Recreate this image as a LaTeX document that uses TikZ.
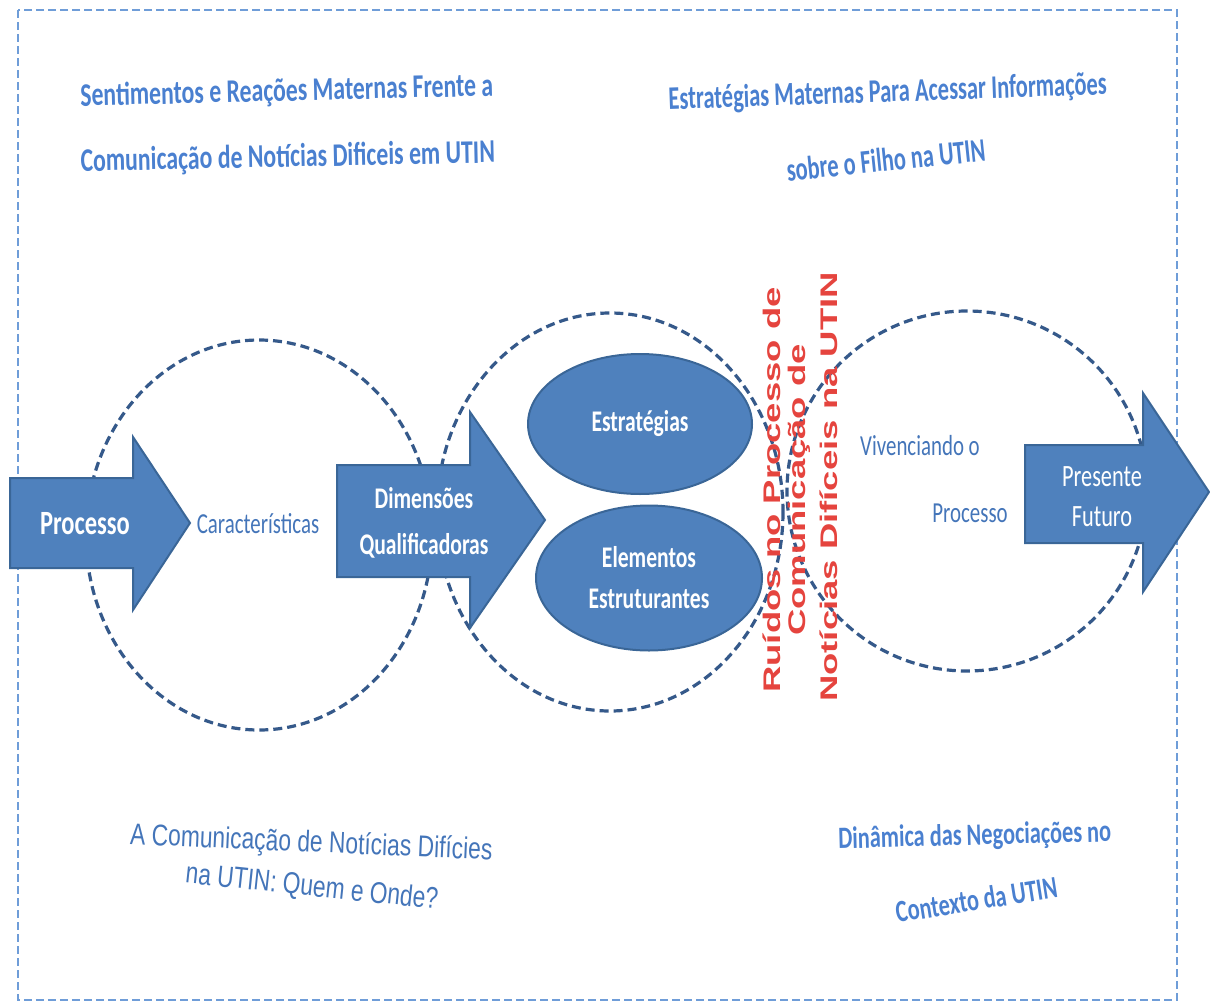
\documentclass[tikz,border=0pt]{standalone}
\usepackage{fontspec}
\usetikzlibrary{shapes.geometric}
\newfontfamily\calnar[FakeStretch=0.72]{Carlito}
\newfontfamily\calart[FakeStretch=0.68]{Carlito}
\newfontfamily\arnar[FakeStretch=0.76]{Liberation Sans}
\newfontfamily\arlong[FakeStretch=1.52]{Liberation Sans}
\newcommand\fsz[2]{\fontsize{#1}{#2}\selectfont}

\definecolor{arrowblue}{HTML}{4F81BD}
\definecolor{edgeblue}{HTML}{3A6697}
\definecolor{ringblue}{HTML}{35598A}
\definecolor{frameblue}{HTML}{6F9DD8}
\definecolor{labelblue}{HTML}{4475B9}
\definecolor{artblue}{HTML}{4A80D0}
\definecolor{noisered}{HTML}{E5443E}

\tikzset{
  frame/.style={draw=frameblue, line width=2pt, dash pattern=on 8pt off 4pt},
  ring/.style={draw=ringblue, line width=3.2pt, dash pattern=on 9pt off 5pt},
  bigarrow/.style={fill=arrowblue, draw=edgeblue, line width=2pt, line join=miter},
  blob/.style={ellipse, fill=arrowblue, draw=edgeblue, line width=2pt, inner sep=0pt,
    text=white, align=center, font=\calnar\bfseries\fsz{30}{41}},
  inlabel/.style={text=white, align=center, font=\calnar\bfseries\fsz{30}{46}},
  bluelabel/.style={text=labelblue, font=\calnar\fsz{29}{34}},
  artlabel/.style={text=artblue, anchor=base, font=\calart\bfseries\fsz{33}{38}},
  notelabel/.style={text=labelblue, anchor=base, font=\arnar\fsz{30}{36}},
  noise/.style={text=noisered, rotate=90, font=\arlong\bfseries\fsz{24}{28}}
}

\begin{document}
\begin{tikzpicture}[x=1pt,y=-1pt]
\useasboundingbox (0,0) rectangle (1210,1004);
\draw[frame] (18,10) rectangle (1177,1000);

% circulos tracejados
\draw[ring] (259,535) ellipse [x radius=173, y radius=195];
\draw[ring] (610,512) ellipse [x radius=173, y radius=199];
\draw[ring] (967,491) circle [radius=180];

% setas
\draw[bigarrow] (10,478) -- (133,478) -- (133,437) -- (190,523) -- (133,610) -- (133,568) -- (10,568) -- cycle;
\draw[bigarrow] (337,465) -- (470,465) -- (470,412) -- (545,520) -- (470,628) -- (470,577) -- (337,577) -- cycle;
\draw[bigarrow] (1025,445) -- (1143,445) -- (1143,393) -- (1209,492) -- (1143,592) -- (1143,543) -- (1025,543) -- cycle;

\node[inlabel, font=\calnar\bfseries\fsz{34}{40}] (proc) at (85,524) {Processo};
\node[inlabel] (dimen) at (424,523) {Dimensões\\Qualificadoras};
\node[inlabel, font=\calnar\fsz{31}{40}] (presfut) at (1102,497) {Presente\\Futuro};

% elipses
\node[blob, minimum width=224pt, minimum height=140pt] (estrat) at (640,424) {Estratégias};
\node[blob, minimum width=226pt, minimum height=145pt] (elem) at (649,578) {Elementos\\Estruturantes};

\node[bluelabel] (carac) at (258,524) {Características};
\node[bluelabel] (viven) at (920,446) {Vivenciando o};
\node[bluelabel] (proc2) at (970,513) {Processo};

% texto vertical
\node[noise] (ruido) at (772,490) {Ruídos no Processo de};
\node[noise] (comun) at (799,490) {Comunicação de};
\node[noise] (notic) at (829,487) {Notícias Difíceis na UTIN};

% titulos
\node[artlabel, font=\calnar\bfseries\fsz{33}{38}, rotate=1.4] (sent1) at (287,101) {Sentimentos e Reações Maternas Frente a};
\node[artlabel, font=\calnar\bfseries\fsz{33}{38}, rotate=1.2] (sent2) at (288,167) {Comunicação de Notícias Dificeis em UTIN};
\node[artlabel, rotate=2] (estr1) at (888,102) {Estratégias Maternas Para Acessar Informações};
\node[artlabel, rotate=5.9] (estr2) at (887,171) {sobre o Filho na UTIN};
\node[notelabel, rotate=-2.5] (comu1) at (311,852) {A Comunicação de Notícias Difícies};
\node[notelabel, rotate=-6] (comu2) at (311,896) {na UTIN: Quem e Onde?};
\node[artlabel, font=\calnar\bfseries\fsz{31}{36}, rotate=1.5] (dina1) at (975,845) {Dinâmica das Negociações no};
\node[artlabel, font=\calnar\bfseries\fsz{31}{36}, rotate=9] (dina2) at (978,910) {Contexto da UTIN};
\end{tikzpicture}
\end{document}
